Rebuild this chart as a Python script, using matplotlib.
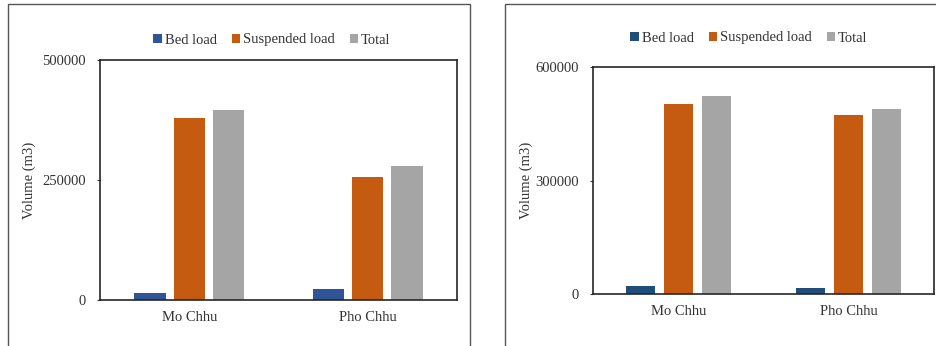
import numpy as np
import matplotlib
matplotlib.use("Agg")
import matplotlib.pyplot as plt
from matplotlib.patches import Rectangle

plt.rcParams["font.family"] = ["Liberation Serif", "DejaVu Serif"]
plt.rcParams["font.size"] = 10.5

rivers = ["Mo Chhu", "Pho Chhu"]
series = ["Bed load", "Suspended load", "Total"]

# volumes for the first period (m3)
bed_a = [15000, 23500]
susp_a = [380000, 257000]
total_a = [395000, 280000]

# volumes for the second period (m3)
bed_b = [22000, 16000]
susp_b = [503000, 472000]
total_b = [524000, 488000]

W, H = 937, 346
fig = plt.figure(figsize=(W / 100, H / 100), dpi=100)
TXT = "#333333"


def px_axes(x0, y0, x1, y1):
    return fig.add_axes([x0 / W, 1 - y1 / H, (x1 - x0) / W, (y1 - y0) / H])


def panel(ax, data, colors, ymax, yticks, width, step):
    x = np.arange(len(rivers))
    for i, (vals, col, name) in enumerate(zip(data, colors, series)):
        ax.bar(x + (i - 1) * step, vals, width, color=col, label=name, zorder=2)
    ax.set_xlim(-0.5, len(rivers) - 0.5)
    ax.set_ylim(0, ymax)
    ax.set_yticks(yticks)
    ax.set_yticklabels([str(t) for t in yticks])
    ax.set_xticks(x)
    ax.set_xticklabels(rivers)
    ax.tick_params(axis="x", length=0, pad=8, colors=TXT)
    ax.tick_params(axis="y", length=2.5, width=0.8, pad=7.5, colors=TXT)
    for s in ax.spines.values():
        s.set_color("#262626")
        s.set_linewidth(1.2)
    ax.set_ylabel("Volume (m3)", color=TXT)


# outer frames around each chart
fig.patches.append(Rectangle((8 / W, -0.1), 462 / W, 1 - 4 / H + 0.1,
                             transform=fig.transFigure, fill=False,
                             edgecolor="#555555", linewidth=1.0))
fig.patches.append(Rectangle((505 / W, -0.1), 440 / W, 1 - 4 / H + 0.1,
                             transform=fig.transFigure, fill=False,
                             edgecolor="#555555", linewidth=1.0))

ax1 = px_axes(100, 60, 457, 300)
panel(ax1, [bed_a, susp_a, total_a], ["#2F5597", "#C55A11", "#A5A5A5"],
      500000, [0, 250000, 500000], 0.175, 0.22)
ax1.yaxis.set_label_coords(-0.178, 0.5)

ax2 = px_axes(593, 67, 934, 294)
panel(ax2, [bed_b, susp_b, total_b], ["#1F4E79", "#C55A11", "#A5A5A5"],
      600000, [0, 300000, 600000], 0.17, 0.222)
ax2.yaxis.set_label_coords(-0.177, 0.5)

for ax, cx, cy in [(ax1, 272, 40), (ax2, 749, 38)]:
    h, l = ax.get_legend_handles_labels()
    fig.legend(h, l, loc="center", bbox_to_anchor=(cx / W, 1 - cy / H),
               ncol=3, frameon=False, handlelength=0.6, handleheight=0.6,
               handletextpad=0.2, columnspacing=1.0, fontsize=10.5,
               labelcolor=TXT)

fig.savefig("out.png", dpi=100)
